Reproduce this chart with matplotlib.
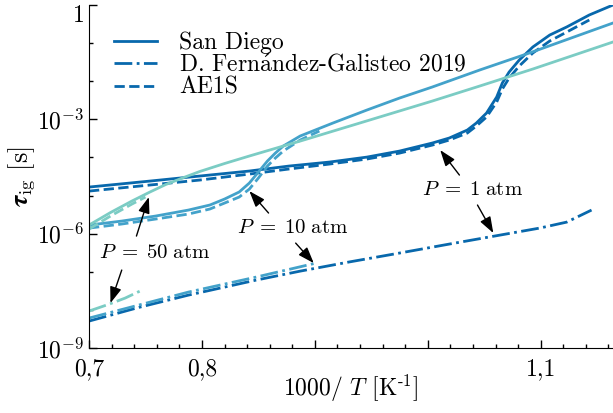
import matplotlib
matplotlib.use('Agg')
import matplotlib.pyplot as plt
import matplotlib.ticker as mticker

plt.rcParams['font.family'] = ['cmr10', 'DejaVu Serif']
plt.rcParams['mathtext.fontset'] = 'cm'
plt.rcParams['axes.unicode_minus'] = False
plt.rcParams['axes.formatter.use_mathtext'] = True

# colours for 1, 10 and 50 atm
c1, c10, c50 = '#0868ac', '#43a2ca', '#7bccc4'

# San Diego (solid)
x_sd_1 = [0.700, 0.754, 0.798, 0.842, 0.877, 0.913, 0.946, 0.975, 1.004, 1.019, 1.035,
          1.043, 1.052, 1.061, 1.066, 1.072, 1.081, 1.093, 1.108, 1.123, 1.143, 1.164]
t_sd_1 = [1.67e-5, 2.40e-5, 3.25e-5, 4.40e-5, 5.94e-5, 7.57e-5, 1.02e-4, 1.47e-4, 2.39e-4,
          3.23e-4, 5.24e-4, 8.0e-4, 1.46e-3, 3.85e-3, 8.97e-3, 1.74e-2, 3.60e-2, 7.9e-2,
          0.163, 0.265, 0.547, 1.0]
x_sd_10 = [0.700, 0.729, 0.759, 0.788, 0.807, 0.820, 0.833, 0.842, 0.850, 0.858, 0.865,
           0.872, 0.887, 0.916, 0.946, 0.975, 1.004, 1.046, 1.090, 1.164]
t_sd_10 = [1.68e-6, 2.14e-6, 2.90e-6, 4.16e-6, 5.64e-6, 8.09e-6, 1.24e-5, 2.13e-5, 4.14e-5,
           8.05e-5, 1.30e-4, 1.99e-4, 3.65e-4, 8.0e-4, 1.75e-3, 3.62e-3, 7.05e-3, 1.97e-2,
           5.50e-2, 0.337]
x_sd_50 = [0.700, 0.719, 0.738, 0.754, 0.768, 0.785, 0.798, 0.820, 0.842, 0.887, 0.931,
           1.004, 1.046, 1.093, 1.164]
t_sd_50 = [1.68e-6, 3.58e-6, 7.18e-6, 1.24e-5, 1.95e-5, 3.06e-5, 4.27e-5, 6.92e-5, 1.09e-4,
           2.69e-4, 6.67e-4, 3.02e-3, 7.48e-3, 2.09e-2, 0.107]

# AE1S (dashed)
x_ae_1 = x_sd_1[:-1]
t_ae_1 = [1.31e-5, 1.89e-5, 2.55e-5, 3.66e-5, 4.97e-5, 6.71e-5, 9.08e-5, 1.30e-4, 2.11e-4,
          2.86e-4, 4.37e-4, 6.67e-4, 1.15e-3, 2.84e-3, 6.24e-3, 1.21e-2, 2.51e-2, 5.50e-2,
          0.1135, 0.195, 0.404]
x_ae_10 = [0.700, 0.729, 0.759, 0.788, 0.807, 0.820, 0.833, 0.842, 0.850, 0.858, 0.865,
           0.872, 0.887, 0.904]
t_ae_10 = [1.40e-6, 1.79e-6, 2.42e-6, 3.27e-6, 4.43e-6, 6.35e-6, 9.14e-6, 1.48e-5, 2.88e-5,
           5.94e-5, 9.64e-5, 1.47e-4, 2.86e-4, 4.93e-4]
x_ae_50 = [0.700, 0.719, 0.738, 0.750]
t_ae_50 = [1.32e-6, 2.90e-6, 5.98e-6, 9.14e-6]

# D. Fernandez-Galisteo 2019 (dash-dot)
x_fg_1 = [0.700, 0.745, 0.788, 0.848, 0.887, 0.930, 0.975, 1.019, 1.064, 1.099, 1.123, 1.145]
t_fg_1 = [5.08e-9, 1.18e-8, 2.44e-8, 6.05e-8, 1.04e-7, 1.80e-7, 3.10e-7, 5.33e-7, 9.18e-7,
          1.40e-6, 2.01e-6, 4.16e-6]
x_fg_10 = [0.700, 0.788, 0.848, 0.901]
t_fg_10 = [6.09e-9, 2.93e-8, 7.26e-8, 1.69e-7]
x_fg_50 = [0.700, 0.718, 0.732, 0.747]
t_fg_50 = [9.31e-9, 1.42e-8, 2.04e-8, 3.31e-8]

fig = plt.figure(figsize=(6.13, 4.13), dpi=100)
ax = fig.add_axes([89/613, 65/413, 524/613, 343/413])

lw = 2.0
ax.plot(x_sd_1, t_sd_1, '-', color=c1, lw=lw, label='San Diego')
ax.plot(x_fg_1, t_fg_1, '-.', color=c1, lw=lw,
        label=r'D. Fern$\acute{\mathrm{a}}$ndez-Galisteo 2019')
ax.plot(x_ae_1, t_ae_1, '--', color=c1, lw=lw, label='AE1S')
ax.plot(x_sd_10, t_sd_10, '-', color=c10, lw=lw)
ax.plot(x_ae_10, t_ae_10, '--', color=c10, lw=lw)
ax.plot(x_fg_10, t_fg_10, '-.', color=c10, lw=lw)
ax.plot(x_sd_50, t_sd_50, '-', color=c50, lw=lw)
ax.plot(x_ae_50, t_ae_50, '--', color=c50, lw=lw)
ax.plot(x_fg_50, t_fg_50, '-.', color=c50, lw=lw)

ax.set_yscale('log')
ax.set_xlim(0.7, 1.164)
ax.set_ylim(1e-9, 1)

ax.set_xticks([0.7, 0.8, 0.9, 1.0, 1.1])
ax.set_xticklabels(['0,7', '0,8', '', '', '1,1'])
ax.xaxis.set_minor_locator(mticker.MultipleLocator(0.02))
ax.set_yticks([1e-9, 1e-6, 1e-3, 1])
ax.set_yticklabels([r'$10^{-9}$', r'$10^{-6}$', r'$10^{-3}$', r'$1$'])
ax.get_yticklabels()[-1].set_verticalalignment('top')
ax.yaxis.set_minor_locator(mticker.FixedLocator([1e-8, 1e-7, 1e-5, 1e-4, 1e-2, 1e-1]))
ax.yaxis.set_minor_formatter(mticker.NullFormatter())
ax.tick_params(which='both', direction='in', labelsize=17, width=1)
ax.tick_params(which='major', length=6)
ax.tick_params(which='minor', length=3)
ax.tick_params(axis='x', which='major', pad=7)
ax.spines['top'].set_visible(False)
ax.spines['right'].set_visible(False)

ax.set_xlabel(r'1000/ $T$ [K$^{\text{-1}}$]', fontsize=17, labelpad=-5)
ax.set_ylabel(r'$\boldsymbol{\tau}_{\rm ig}$ [s]', fontsize=19, labelpad=0)

ax.legend(loc='upper left', bbox_to_anchor=(0.03, 0.95), frameon=False, fontsize=17,
          handlelength=1.8, handletextpad=0.95, labelspacing=0.0, borderaxespad=0)

arr = dict(arrowstyle='-|>,head_length=0.7,head_width=0.25', color='black', lw=1,
           mutation_scale=14, shrinkA=0, shrinkB=0)
ax.text(1.040, 1.39e-5, r'$P\;=\;1\ \mathrm{atm}$', fontsize=15, ha='center', va='center')
ax.annotate('', xy=(1.011, 1.56e-4), xytext=(1.028, 3.45e-5), arrowprops=arr)
ax.annotate('', xy=(1.058, 1.04e-6), xytext=(1.044, 5.64e-6), arrowprops=arr)
ax.text(0.880, 1.40e-6, r'$P\;=\;10\ \mathrm{atm}$', fontsize=15, ha='center', va='center')
ax.annotate('', xy=(0.842, 1.31e-5), xytext=(0.859, 3.48e-6), arrowprops=arr)
ax.annotate('', xy=(0.899, 1.69e-7), xytext=(0.883, 5.66e-7), arrowprops=arr)
ax.text(0.758, 3.10e-7, r'$P\;=\;50\ \mathrm{atm}$', fontsize=15, ha='center', va='center')
ax.annotate('', xy=(0.753, 9.14e-6), xytext=(0.742, 8.65e-7), arrowprops=arr)
ax.annotate('', xy=(0.719, 1.51e-8), xytext=(0.729, 1.11e-7), arrowprops=arr)

fig.savefig('out.png', dpi=100)
